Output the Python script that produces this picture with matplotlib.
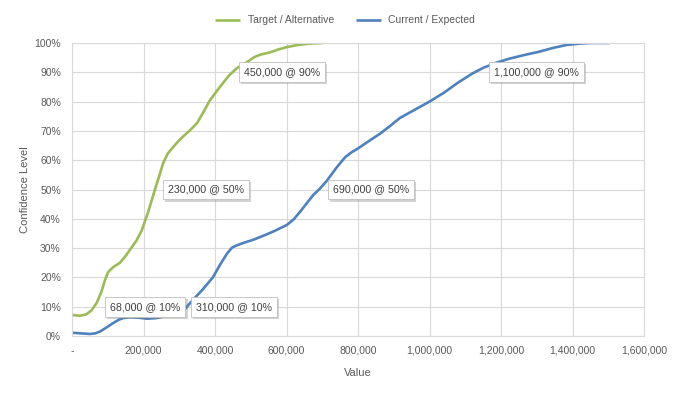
# Confidence curves: target vs current
import matplotlib
matplotlib.use('Agg')
import matplotlib.pyplot as plt
import matplotlib.patheffects as pe
from matplotlib.ticker import FuncFormatter, MultipleLocator

# data
target_x = [0, 22000, 40000, 55000, 69000, 82000, 92000, 101000, 115000, 134000,
            150000, 162000, 180000, 195000, 213000, 232000, 245000, 255000, 268000,
            283000, 296000, 310000, 330000, 350000, 368000, 386000, 405000, 422000,
            440000, 462000, 490000, 510000, 526000, 554000, 580000, 601000, 630000,
            657000, 680000, 702000]
target_y = [7.2, 6.9, 7.4, 8.8, 11.3, 15.0, 19.0, 21.8, 23.5, 25.0,
            27.3, 29.4, 32.5, 36.0, 42.3, 50.0, 55.0, 59.0, 62.3,
            64.5, 66.3, 68.0, 70.2, 72.7, 76.5, 80.5, 83.6, 86.3,
            89.0, 91.5, 93.5, 95.2, 96.0, 96.8, 97.9, 98.6, 99.3,
            99.7, 99.9, 100.0]

current_x = [0, 25000, 50000, 65000, 78000, 95000, 115000, 130000, 143000, 160000,
             182000, 210000, 235000, 255000, 288000, 316000, 338000, 365000, 394000,
             415000, 434000, 448000, 462000, 485000, 506000, 535000, 562000, 601000,
             620000, 638000, 656000, 674000, 695000, 713000, 740000, 764000, 782000,
             800000, 830000, 861000, 890000, 917000, 960000, 1000000, 1040000,
             1080000, 1120000, 1150000, 1185000, 1222000, 1265000, 1306000, 1345000,
             1382000, 1420000, 1450000, 1505000]
current_y = [1.1, 0.9, 0.7, 0.9, 1.5, 2.8, 4.4, 5.5, 6.1, 6.4,
             6.3, 5.9, 6.1, 6.6, 7.5, 9.2, 12.3, 15.8, 20.0,
             24.5, 28.2, 30.2, 31.0, 32.0, 32.8, 34.2, 35.6, 37.9,
             39.8, 42.4, 45.2, 48.0, 50.5, 53.0, 57.5, 61.0, 62.7,
             64.0, 66.5, 69.0, 71.7, 74.4, 77.3, 80.0, 83.0,
             86.5, 89.6, 91.5, 93.2, 94.6, 95.9, 97.0, 98.3,
             99.3, 99.8, 100.0, 100.0]

label_text = ['68,000 @ 10%', '310,000 @ 10%', '230,000 @ 50%',
              '690,000 @ 50%', '450,000 @ 90%', '1,100,000 @ 90%']
label_x = [68000, 310000, 230000, 690000, 450000, 1100000]
label_y = [10, 10, 50, 50, 90, 90]
label_dx = [9, 8, 9, 9, 6, 24]   # box left edge offset from point, pixels

GREEN = '#9BBB59'
BLUE = '#4F81BD'
TXT = '#595959'
GRID = '#d9d9d9'

plt.rcParams['font.family'] = ['Liberation Sans', 'DejaVu Sans']

fig = plt.figure(figsize=(6.85, 3.95), dpi=100)
ax = fig.add_axes([72 / 685, 59 / 395, 572 / 685, 293 / 395])

ax.plot(target_x, target_y, color=GREEN, lw=1.9, label='Target / Alternative',
        solid_capstyle='butt', solid_joinstyle='round')
ax.plot(current_x, current_y, color=BLUE, lw=1.9, label='Current / Expected',
        solid_capstyle='butt', solid_joinstyle='round')

ax.set_xlim(0, 1600000)
ax.set_ylim(0, 100)
ax.xaxis.set_major_locator(MultipleLocator(200000))
ax.yaxis.set_major_locator(MultipleLocator(10))
ax.xaxis.set_major_formatter(FuncFormatter(lambda v, p: '-' if v == 0 else f'{v:,.0f}'))
ax.yaxis.set_major_formatter(FuncFormatter(lambda v, p: f'{v:.0f}%'))
ax.tick_params(length=0, labelsize=7.5, colors=TXT)
ax.tick_params(axis='x', pad=7)
ax.tick_params(axis='y', pad=8)
ax.grid(True, color=GRID, lw=0.8)
ax.set_axisbelow(True)
for s in ax.spines.values():
    s.set_color(GRID)
    s.set_linewidth(0.8)

ax.set_xlabel('Value', fontsize=8, color=TXT, labelpad=9)
ax.set_ylabel('Confidence Level', fontsize=8, color=TXT, labelpad=3)

# callout labels (box pad ~5 px, so shift text by that much)
for t, x, y, dx in zip(label_text, label_x, label_y, label_dx):
    a = ax.annotate(t, xy=(x, y), xytext=(dx + 5, 0), textcoords='offset pixels',
                    ha='left', va='center', fontsize=7.7, color='#404040',
                    bbox=dict(boxstyle='square,pad=0.46', fc='white', ec='#bfbfbf', lw=0.6))
    a.get_bbox_patch().set_path_effects([
        pe.SimplePatchShadow(offset=(1.5, -1.5), shadow_rgbFace='#7f7f7f', alpha=0.35),
        pe.Normal()])

fig.legend(loc='upper center', bbox_to_anchor=(0.504, 0.985), ncol=2, frameon=False,
           fontsize=7.5, labelcolor=TXT, handlelength=2.4, handletextpad=0.7,
           columnspacing=2.1)

fig.savefig('out.png', dpi=100)
